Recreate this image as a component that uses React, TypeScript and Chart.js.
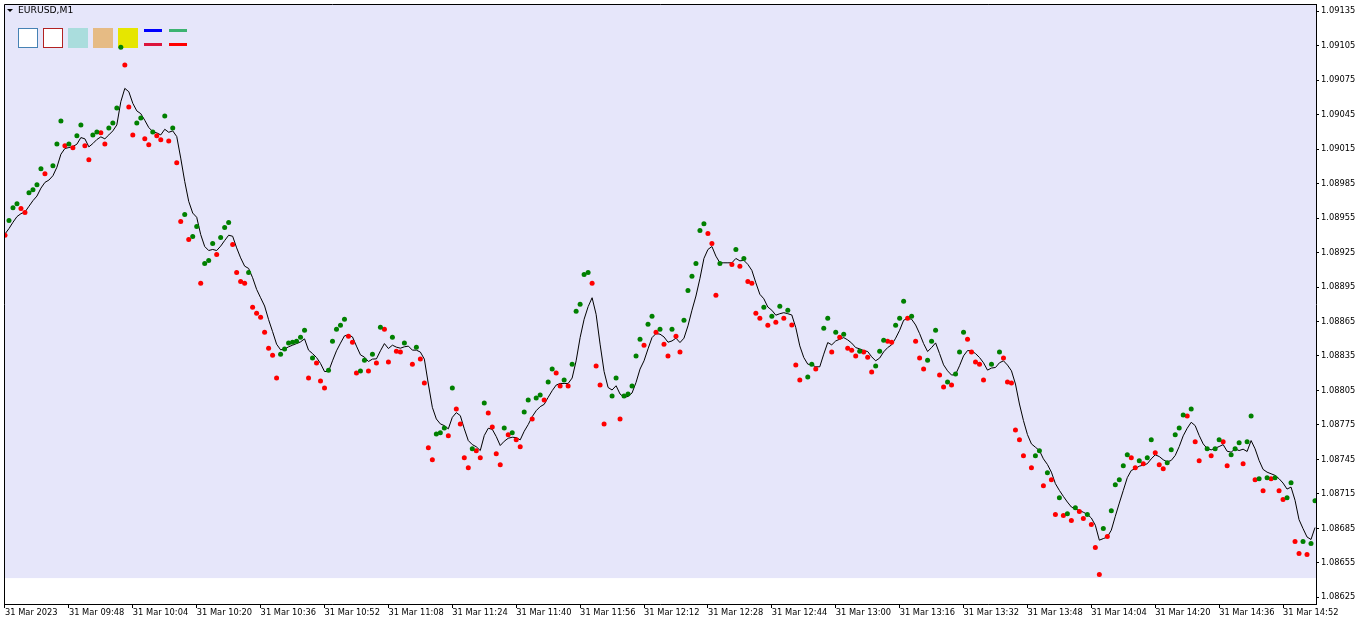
import { useEffect, useRef } from 'react';
import { Chart, registerables } from 'chart.js';

Chart.register(...registerables);

const SYMBOL_TITLE = 'EURUSD,M1';

// x axis: minutes since 31 Mar 2023 09:32 (one bar per minute)
const tickMinutes = [0, 16, 32, 48, 64, 80, 96, 112, 128, 144, 160, 176, 192, 208, 224, 240, 256, 272, 288, 304, 320];
const tickLabels = [
  '31 Mar 2023', '31 Mar 09:48', '31 Mar 10:04', '31 Mar 10:20', '31 Mar 10:36', '31 Mar 10:52',
  '31 Mar 11:08', '31 Mar 11:24', '31 Mar 11:40', '31 Mar 11:56', '31 Mar 12:12', '31 Mar 12:28',
  '31 Mar 12:44', '31 Mar 13:00', '31 Mar 13:16', '31 Mar 13:32', '31 Mar 13:48', '31 Mar 14:04',
  '31 Mar 14:20', '31 Mar 14:36', '31 Mar 14:52',
];
const priceTicks = [
  1.08625, 1.08655, 1.08685, 1.08715, 1.08745, 1.08775, 1.08805, 1.08835, 1.08865,
  1.08895, 1.08925, 1.08955, 1.08985, 1.09015, 1.09045, 1.09075, 1.09105, 1.09135,
];
const X_MIN = -0.25;
const X_MAX = 328.25;
const Y_MIN = 1.0861916;
const Y_MAX = 1.0914134;
const BG_FLOOR = 1.086417;

// black moving-average line, one value per minute (minute 0 .. 328)
const maValues = [
  1.089412, 1.089459, 1.089514, 1.089563, 1.089589, 1.089603, 1.089653, 1.089702, 1.089742, 1.089811,
  1.089861, 1.089881, 1.089919, 1.089993, 1.090106, 1.090156, 1.090164, 1.090173, 1.090193, 1.090251,
  1.090240, 1.090170, 1.090199, 1.090234, 1.090257, 1.090240, 1.090274, 1.090309, 1.090361, 1.090563,
  1.090679, 1.090650, 1.090549, 1.090483, 1.090459, 1.090401, 1.090338, 1.090303, 1.090292, 1.090274,
  1.090323, 1.090297, 1.090309, 1.090260, 1.090072, 1.089869, 1.089696, 1.089594, 1.089557, 1.089407,
  1.089303, 1.089268, 1.089277, 1.089268, 1.089306, 1.089355, 1.089401, 1.089392, 1.089291, 1.089204,
  1.089132, 1.089112, 1.089031, 1.088930, 1.088857, 1.088785, 1.088666, 1.088562, 1.088453, 1.088404,
  1.088410, 1.088430, 1.088444, 1.088458, 1.088473, 1.088499, 1.088401, 1.088371, 1.088337, 1.088285,
  1.088215, 1.088215, 1.088308, 1.088395, 1.088462, 1.088525, 1.088534, 1.088516, 1.088436, 1.088360,
  1.088340, 1.088302, 1.088323, 1.088325, 1.088395, 1.088458, 1.088415, 1.088444, 1.088427, 1.088418,
  1.088430, 1.088436, 1.088401, 1.088401, 1.088384, 1.088323, 1.088106, 1.087903, 1.087802, 1.087759,
  1.087744, 1.087716, 1.087816, 1.087857, 1.087831, 1.087716, 1.087614, 1.087579, 1.087560, 1.087527,
  1.087658, 1.087721, 1.087712, 1.087649, 1.087571, 1.087608, 1.087634, 1.087643, 1.087640, 1.087620,
  1.087695, 1.087753, 1.087822, 1.087874, 1.087909, 1.087929, 1.087990, 1.088048, 1.088097, 1.088111,
  1.088111, 1.088111, 1.088158, 1.088308, 1.088510, 1.088670, 1.088779, 1.088857, 1.088713, 1.088453,
  1.088215, 1.088076, 1.088054, 1.088091, 1.088019, 1.087990, 1.087998, 1.088028, 1.088120, 1.088236,
  1.088308, 1.088412, 1.088510, 1.088545, 1.088540, 1.088516, 1.088470, 1.088481, 1.088505, 1.088467,
  1.088505, 1.088612, 1.088748, 1.088872, 1.089025, 1.089199, 1.089277, 1.089303, 1.089219, 1.089161,
  1.089161, 1.089161, 1.089161, 1.089199, 1.089178, 1.089182, 1.089147, 1.089095, 1.088987, 1.088887,
  1.088848, 1.088776, 1.088748, 1.088705, 1.088718, 1.088727, 1.088718, 1.088707, 1.088597, 1.088438,
  1.088337, 1.088279, 1.088273, 1.088256, 1.088256, 1.088366, 1.088467, 1.088447, 1.088481, 1.088496,
  1.088510, 1.088490, 1.088462, 1.088423, 1.088412, 1.088397, 1.088389, 1.088343, 1.088308, 1.088332,
  1.088386, 1.088423, 1.088447, 1.088505, 1.088574, 1.088661, 1.088678, 1.088670, 1.088620, 1.088545,
  1.088458, 1.088389, 1.088423, 1.088464, 1.088371, 1.088273, 1.088221, 1.088184, 1.088189, 1.088265,
  1.088351, 1.088397, 1.088395, 1.088371, 1.088337, 1.088291, 1.088227, 1.088245, 1.088250, 1.088291,
  1.088308, 1.088271, 1.088221, 1.088106, 1.087932, 1.087788, 1.087666, 1.087585, 1.087556, 1.087527,
  1.087455, 1.087406, 1.087339, 1.087239, 1.087180, 1.087128, 1.087079, 1.087036, 1.087016, 1.087007,
  1.086990, 1.086972, 1.086940, 1.086877, 1.086747, 1.086761, 1.086775, 1.086834, 1.086955, 1.087070,
  1.087180, 1.087291, 1.087354, 1.087369, 1.087391, 1.087400, 1.087412, 1.087455, 1.087490, 1.087475,
  1.087447, 1.087429, 1.087441, 1.087484, 1.087562, 1.087655, 1.087721, 1.087773, 1.087744, 1.087658,
  1.087585, 1.087545, 1.087533, 1.087547, 1.087562, 1.087579, 1.087521, 1.087513, 1.087542, 1.087527,
  1.087539, 1.087519, 1.087614, 1.087542, 1.087441, 1.087363, 1.087339, 1.087325, 1.087311, 1.087282,
  1.087244, 1.087192, 1.087209, 1.087094, 1.086926, 1.086848, 1.086775, 1.086753, 1.086857,
];

// green dots: [minute, price]
const greenDots: [number, number][] = [
  [1, 1.089529], [2, 1.089641], [3, 1.089676], [6, 1.089771], [7, 1.089797], [8, 1.089841], [9, 1.089980],
  [12, 1.090006], [13, 1.090196], [14, 1.090396], [16, 1.090196], [18, 1.090266], [19, 1.090361],
  [22, 1.090274], [23, 1.090300], [26, 1.090335], [27, 1.090378], [28, 1.090509], [29, 1.091038],
  [33, 1.090378], [34, 1.090422], [37, 1.090300], [40, 1.090439], [42, 1.090335], [45, 1.089581],
  [47, 1.089390], [48, 1.089476], [50, 1.089156], [51, 1.089182], [52, 1.089329], [54, 1.089381],
  [55, 1.089468], [56, 1.089511], [61, 1.089077], [69, 1.088366], [70, 1.088410], [71, 1.088462],
  [72, 1.088470], [73, 1.088479], [74, 1.088514], [75, 1.088574], [77, 1.088332], [81, 1.088227],
  [82, 1.088479], [83, 1.088583], [84, 1.088618], [85, 1.088670], [89, 1.088219], [90, 1.088314],
  [92, 1.088366], [94, 1.088600], [97, 1.088514], [100, 1.088462], [103, 1.088427], [108, 1.087672],
  [109, 1.087681], [110, 1.087724], [112, 1.088071], [117, 1.087542], [120, 1.087941], [125, 1.087724],
  [127, 1.087681], [130, 1.087863], [131, 1.087967], [133, 1.087985], [134, 1.088011], [136, 1.088123],
  [137, 1.088236], [140, 1.088141], [142, 1.088279], [143, 1.088739], [144, 1.088800], [145, 1.089060],
  [146, 1.089077], [152, 1.088002], [153, 1.088158], [155, 1.088002], [156, 1.088019], [157, 1.088089],
  [158, 1.088349], [159, 1.088496], [161, 1.088626], [162, 1.088696], [164, 1.088583], [167, 1.088583],
  [170, 1.088661], [171, 1.088921], [172, 1.089043], [173, 1.089156], [174, 1.089442], [175, 1.089502],
  [179, 1.089156], [183, 1.089277], [185, 1.089199], [190, 1.088774], [192, 1.088696], [194, 1.088783],
  [196, 1.088748], [201, 1.088167], [202, 1.088279], [205, 1.088592], [206, 1.088678], [208, 1.088557],
  [210, 1.088540], [214, 1.088392], [218, 1.088262], [219, 1.088392], [220, 1.088488], [223, 1.088618],
  [224, 1.088678], [225, 1.088826], [227, 1.088696], [231, 1.088314], [232, 1.088479], [233, 1.088574],
  [236, 1.088123], [238, 1.088193], [239, 1.088384], [240, 1.088557], [247, 1.088279], [249, 1.088384],
  [258, 1.087481], [259, 1.087525], [261, 1.087334], [264, 1.087117], [266, 1.086978], [268, 1.087030],
  [271, 1.086970], [275, 1.086848], [277, 1.087004], [278, 1.087230], [279, 1.087273], [280, 1.087395],
  [281, 1.087490], [284, 1.087438], [286, 1.087464], [287, 1.087620], [291, 1.087421], [292, 1.087533],
  [293, 1.087664], [294, 1.087724], [295, 1.087837], [297, 1.087889], [301, 1.087542], [303, 1.087542],
  [304, 1.087620], [307, 1.087490], [308, 1.087542], [309, 1.087594], [311, 1.087603], [312, 1.087828],
  [314, 1.087282], [316, 1.087291], [318, 1.087291], [321, 1.087117], [322, 1.087247], [325, 1.086736],
  [327, 1.086718], [328, 1.087091],
];

// red dots: [minute, price]
const redDots: [number, number][] = [
  [0, 1.089401], [4, 1.089633], [5, 1.089598], [10, 1.089936], [15, 1.090179], [17, 1.090162],
  [20, 1.090179], [21, 1.090058], [24, 1.090292], [25, 1.090196], [30, 1.090882], [31, 1.090517],
  [32, 1.090274], [35, 1.090240], [36, 1.090188], [38, 1.090266], [39, 1.090231], [41, 1.090222],
  [43, 1.090032], [44, 1.089520], [46, 1.089364], [49, 1.088982], [53, 1.089234], [57, 1.089320],
  [58, 1.089077], [59, 1.088999], [60, 1.088982], [62, 1.088774], [63, 1.088722], [64, 1.088687],
  [65, 1.088557], [66, 1.088418], [67, 1.088357], [68, 1.088158], [76, 1.088158], [78, 1.088288],
  [79, 1.088132], [80, 1.088071], [86, 1.088522], [87, 1.088470], [88, 1.088201], [91, 1.088219],
  [93, 1.088288], [95, 1.088583], [96, 1.088297], [98, 1.088392], [99, 1.088384], [102, 1.088279],
  [104, 1.088323], [105, 1.088115], [106, 1.087551], [107, 1.087447], [111, 1.087655], [113, 1.087889],
  [114, 1.087759], [115, 1.087464], [116, 1.087377], [118, 1.087525], [119, 1.087464], [121, 1.087854],
  [122, 1.087733], [123, 1.087499], [124, 1.087403], [126, 1.087664], [128, 1.087620], [129, 1.087560],
  [132, 1.087802], [135, 1.087967], [138, 1.088201], [139, 1.088089], [141, 1.088089], [147, 1.088982],
  [148, 1.088262], [149, 1.088097], [150, 1.087759], [154, 1.087802], [160, 1.088444], [163, 1.088557],
  [165, 1.088453], [166, 1.088349], [168, 1.088522], [169, 1.088384], [176, 1.089416], [177, 1.089329],
  [178, 1.088878], [182, 1.089147], [184, 1.089130], [186, 1.088999], [187, 1.088982], [188, 1.088722],
  [189, 1.088678], [191, 1.088618], [193, 1.088644], [195, 1.088678], [197, 1.088620], [198, 1.088271],
  [199, 1.088141], [203, 1.088236], [207, 1.088384], [209, 1.088514], [211, 1.088418], [212, 1.088401],
  [213, 1.088349], [215, 1.088384], [216, 1.088340], [217, 1.088210], [221, 1.088479], [222, 1.088470],
  [226, 1.088678], [228, 1.088479], [229, 1.088332], [230, 1.088236], [234, 1.088184], [235, 1.088080],
  [237, 1.088097], [241, 1.088496], [242, 1.088384], [243, 1.088297], [244, 1.088279], [245, 1.088141],
  [250, 1.088332], [251, 1.088123], [252, 1.088115], [253, 1.087707], [254, 1.087620], [255, 1.087481],
  [257, 1.087377], [260, 1.087221], [262, 1.087273], [263, 1.086970], [265, 1.086961], [267, 1.086918],
  [269, 1.086996], [270, 1.086935], [272, 1.086883], [273, 1.086683], [274, 1.086449], [276, 1.086779],
  [282, 1.087464], [283, 1.087377], [285, 1.087412], [288, 1.087508], [289, 1.087403], [290, 1.087369],
  [296, 1.087828], [298, 1.087603], [299, 1.087438], [302, 1.087481], [305, 1.087603], [306, 1.087395],
  [310, 1.087412], [313, 1.087273], [315, 1.087178], [317, 1.087282], [319, 1.087178], [320, 1.087100],
  [323, 1.086736], [324, 1.086632], [326, 1.086623],
];

const FONT = 'DejaVu Sans';

const terminalPlugin = {
  id: 'terminalDecor',
  beforeDraw(chart: any) {
    const { ctx, chartArea: a, scales } = chart;
    const y = scales.y;
    ctx.save();
    ctx.fillStyle = '#FFFFFF';
    ctx.fillRect(0, 0, chart.width, chart.height);
    const floorPx = y.getPixelForValue(BG_FLOOR);
    ctx.fillStyle = '#E6E6FA';
    ctx.fillRect(a.left, a.top, a.right - a.left, floorPx - a.top);

    // title with dropdown triangle
    ctx.fillStyle = '#000000';
    ctx.beginPath();
    ctx.moveTo(7, 9);
    ctx.lineTo(13, 9);
    ctx.lineTo(10, 12);
    ctx.closePath();
    ctx.fill();
    ctx.font = `9.2px "${FONT}"`;
    ctx.textBaseline = 'middle';
    ctx.textAlign = 'left';
    ctx.fillText(SYMBOL_TITLE, 18, 11);

    // indicator swatches
    const boxes: [number, string, string | null][] = [
      [18, '#FFFFFF', '#4682B4'],
      [43, '#FFFFFF', '#B22222'],
      [68, 'rgb(170,221,221)', null],
      [93, '#E6BB84', null],
      [118, '#E6E600', null],
    ];
    boxes.forEach(([bx, fill, stroke]) => {
      ctx.fillStyle = fill;
      ctx.fillRect(bx, 28, 20, 20);
      if (stroke) {
        ctx.strokeStyle = stroke;
        ctx.lineWidth = 1;
        ctx.strokeRect(bx + 0.5, 28.5, 19, 19);
      }
    });
    const bars: [number, number, string][] = [
      [144, 29, '#0000FF'],
      [144, 43, '#DC143C'],
      [169, 29, '#3CB371'],
      [169, 43, '#FF0000'],
    ];
    bars.forEach(([bx, by, c]) => {
      ctx.fillStyle = c;
      ctx.fillRect(bx, by, 18, 3);
    });
    ctx.restore();
  },
  afterDraw(chart: any) {
    const { ctx, chartArea: a } = chart;
    ctx.save();
    ctx.strokeStyle = '#000000';
    ctx.lineWidth = 1;
    ctx.beginPath();
    ctx.moveTo(a.left + 0.5, a.bottom);
    ctx.lineTo(a.left + 0.5, a.top + 0.5);
    ctx.lineTo(a.right, a.top + 0.5);
    ctx.stroke();
    ctx.restore();
  },
};

export default function App() {
  const ref = useRef<HTMLCanvasElement>(null);

  useEffect(() => {
    document.body.style.margin = '0';
    const canvas = ref.current;
    if (!canvas) return;
    const chart = new Chart(canvas, {
      type: 'scatter',
      data: {
        datasets: [
          {
            label: 'up',
            data: greenDots.map(([m, p]) => ({ x: m, y: p })),
            backgroundColor: '#008000',
            borderWidth: 0,
            pointRadius: 2.5,
            pointBorderWidth: 0,
            showLine: false,
            order: 0,
          },
          {
            label: 'down',
            data: redDots.map(([m, p]) => ({ x: m, y: p })),
            backgroundColor: '#FF0000',
            borderWidth: 0,
            pointRadius: 2.5,
            pointBorderWidth: 0,
            showLine: false,
            order: 0,
          },
          {
            type: 'line',
            label: 'ma',
            data: maValues.map((v, i) => ({ x: i, y: v })),
            borderColor: '#000000',
            borderWidth: 1,
            pointRadius: 0,
            fill: false,
            tension: 0,
            order: 1,
          } as any,
        ],
      },
      options: {
        animation: false,
        responsive: false,
        devicePixelRatio: 1,
        layout: { padding: { left: 2, top: 2, right: 0, bottom: 0 } },
        plugins: { legend: { display: false }, tooltip: { enabled: false } },
        events: [],
        scales: {
          x: {
            type: 'linear',
            position: 'bottom',
            min: X_MIN,
            max: X_MAX,
            afterBuildTicks: (scale: any) => {
              scale.ticks = tickMinutes.map((v) => ({ value: v }));
            },
            afterFit: (scale: any) => {
              scale.height = 20;
              scale.paddingLeft = 0;
              scale.paddingRight = 0;
            },
            ticks: {
              autoSkip: false,
              maxRotation: 0,
              minRotation: 0,
              align: 'start',
              padding: 0,
              color: '#000000',
              font: { family: FONT, size: 8.3 },
              callback: (_v: any, i: number) => tickLabels[i],
            },
            grid: {
              display: true,
              drawOnChartArea: false,
              drawTicks: true,
              tickLength: 4,
              color: '#000000',
              lineWidth: 1,
            },
            border: { display: true, color: '#000000', width: 1 },
          },
          y: {
            type: 'linear',
            position: 'right',
            min: Y_MIN,
            max: Y_MAX,
            afterBuildTicks: (scale: any) => {
              scale.ticks = priceTicks.map((v) => ({ value: v }));
            },
            afterFit: (scale: any) => {
              scale.width = 46;
              scale.paddingTop = 0;
              scale.paddingBottom = 0;
            },
            ticks: {
              autoSkip: false,
              padding: 2,
              color: '#000000',
              font: { family: FONT, size: 8.3 },
              callback: (v: any) => Number(v).toFixed(5),
            },
            grid: {
              display: true,
              drawOnChartArea: false,
              drawTicks: true,
              tickLength: 3,
              color: '#000000',
              lineWidth: 1,
            },
            border: { display: true, color: '#000000', width: 1 },
          },
        },
      },
      plugins: [terminalPlugin],
    });
    return () => chart.destroy();
  }, []);

  return (
    <div style={{ position: 'fixed', left: 0, top: 0, width: 1362, height: 624, background: '#FFFFFF' }}>
      <canvas ref={ref} width={1362} height={624} style={{ display: 'block', width: 1362, height: 624 }} />
    </div>
  );
}
